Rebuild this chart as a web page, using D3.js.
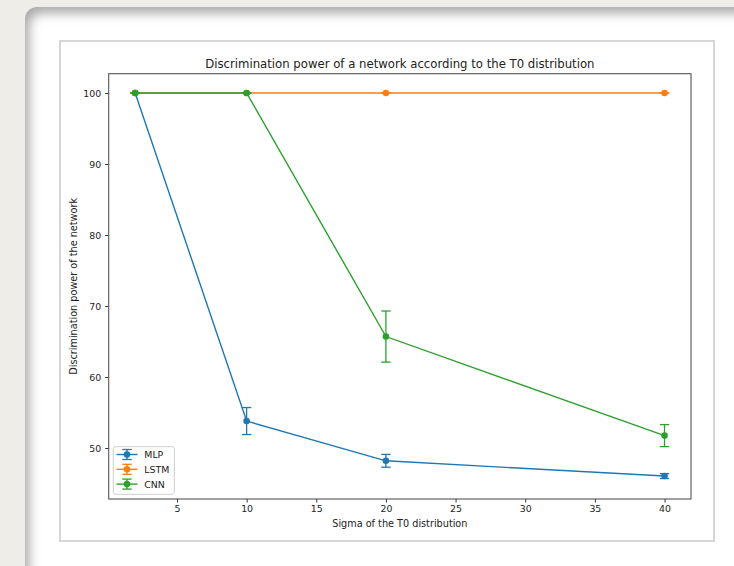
<!DOCTYPE html>
<html>
<head>
<meta charset="utf-8">
<script src="https://cdn.jsdelivr.net/npm/d3@7"></script>
<style>
  html, body { margin: 0; padding: 0; width: 734px; height: 566px; overflow: hidden; background: #efede7; }
  #card { position: absolute; left: 25px; top: 7px; width: 760px; height: 600px; background: #ffffff;
          border-top-left-radius: 12px; box-shadow: inset 4px 6px 12px rgba(0,0,0,0.35); }
  #frame { position: absolute; left: 59px; top: 40px; width: 652px; height: 498px; border: 2px solid #d6d6d6; background: #fff; }
  svg { position: absolute; left: 0; top: 0; }
  text { font-family: "DejaVu Sans", sans-serif; fill: #222; }
</style>
</head>
<body>
<div id="card"></div>
<div id="frame"></div>
<svg id="chart" width="734" height="566"></svg>
<script>
// ---- data ----
const sigma = [2, 10, 20, 40];
const mlpValues = [100, 53.8, 48.2, 46.05];
const mlpErrors = [0, 1.9, 0.9, 0.35];
const lstmValues = [100, 100, 100, 100];
const lstmErrors = [0, 0, 0, 0];
const cnnValues = [100, 100, 65.7, 51.75];
const cnnErrors = [0, 0, 3.6, 1.55];
const seriesNames = ["MLP", "LSTM", "CNN"];
const seriesColors = ["#1f77b4", "#ff7f0e", "#2ca02c"];
const xTicks = [5, 10, 15, 20, 25, 30, 35, 40];
const yTicks = [50, 60, 70, 80, 90, 100];
const titleText = "Discrimination power of a network according to the T0 distribution";
const xLabel = "Sigma of the T0 distribution";
const yLabel = "Discrimination power of the network";

const series = [
  {name: seriesNames[0], color: seriesColors[0], values: mlpValues, errors: mlpErrors},
  {name: seriesNames[1], color: seriesColors[1], values: lstmValues, errors: lstmErrors},
  {name: seriesNames[2], color: seriesColors[2], values: cnnValues, errors: cnnErrors}
];

const L = 108.7, R = 691, T = 73.7, B = 499;
const x = d3.scaleLinear().domain([0.1, 41.9]).range([L, R]);
const y = d3.scaleLinear().domain([42.82, 102.72]).range([B, T]);

const svg = d3.select("#chart");

// axes
const xAxis = d3.axisBottom(x).tickValues(xTicks).tickSize(3.5).tickPadding(3).tickFormat(d3.format("d"));
const yAxis = d3.axisLeft(y).tickValues(yTicks).tickSize(3.5).tickPadding(4).tickFormat(d3.format("d"));
const gx = svg.append("g").attr("transform", `translate(0,${B})`).call(xAxis);
const gy = svg.append("g").attr("transform", `translate(${L},0)`).call(yAxis);
[gx, gy].forEach(g => {
  g.select(".domain").remove();
  g.selectAll(".tick line").attr("stroke", "#333").attr("stroke-width", 1);
  g.selectAll(".tick text").attr("font-size", "9.4px").attr("fill", "#222").style("font-family", "DejaVu Sans, sans-serif");
});

// frame
svg.append("rect").attr("x", L).attr("y", T).attr("width", R - L).attr("height", B - T)
  .attr("fill", "none").attr("stroke", "#555").attr("stroke-width", 1.1);

// series
const cap = 4.7;
const line = d3.line().x((d, i) => x(sigma[i])).y(d => y(d));
series.forEach(s => {
  const g = svg.append("g");
  g.append("path").datum(s.values).attr("d", line).attr("fill", "none")
    .attr("stroke", s.color).attr("stroke-width", 1.4);
  s.values.forEach((v, i) => {
    const cx = x(sigma[i]);
    const e = s.errors[i];
    g.append("line").attr("x1", cx).attr("x2", cx).attr("y1", y(v + e)).attr("y2", y(v - e))
      .attr("stroke", s.color).attr("stroke-width", 1.3);
    [v + e, v - e].forEach(c => {
      g.append("line").attr("x1", cx - cap).attr("x2", cx + cap).attr("y1", y(c)).attr("y2", y(c))
        .attr("stroke", s.color).attr("stroke-width", 1.3);
    });
    g.append("circle").attr("cx", cx).attr("cy", y(v)).attr("r", 3.3).attr("fill", s.color);
  });
});

// title and labels
svg.append("text").attr("x", (L + R) / 2).attr("y", 68).attr("text-anchor", "middle")
  .attr("font-size", "11.7px").text(titleText);
svg.append("text").attr("x", (L + R) / 2).attr("y", 527).attr("text-anchor", "middle")
  .attr("font-size", "9.7px").text(xLabel);
svg.append("text").attr("transform", `translate(76.8,${(T + B) / 2}) rotate(-90)`).attr("text-anchor", "middle")
  .attr("font-size", "9.7px").text(yLabel);

// legend
const lg = svg.append("g");
lg.append("rect").attr("x", 113.3).attr("y", 446.7).attr("width", 61).attr("height", 47.6).attr("rx", 2)
  .attr("fill", "#fff").attr("fill-opacity", 0.8).attr("stroke", "#d0d0d0").attr("stroke-width", 1);
series.forEach((s, i) => {
  const ly = 454.5 + i * 14.8;
  lg.append("line").attr("x1", 116.5).attr("x2", 137.5).attr("y1", ly).attr("y2", ly)
    .attr("stroke", s.color).attr("stroke-width", 1.4);
  lg.append("line").attr("x1", 127).attr("x2", 127).attr("y1", ly - 5).attr("y2", ly + 5)
    .attr("stroke", s.color).attr("stroke-width", 1.3);
  [ly - 5, ly + 5].forEach(c => lg.append("line").attr("x1", 127 - cap).attr("x2", 127 + cap)
    .attr("y1", c).attr("y2", c).attr("stroke", s.color).attr("stroke-width", 1.3));
  lg.append("circle").attr("cx", 127).attr("cy", ly).attr("r", 3.3).attr("fill", s.color);
  lg.append("text").attr("x", 144.3).attr("y", ly + 3.4).attr("font-size", "9.4px").text(s.name);
});
</script>
</body>
</html>
